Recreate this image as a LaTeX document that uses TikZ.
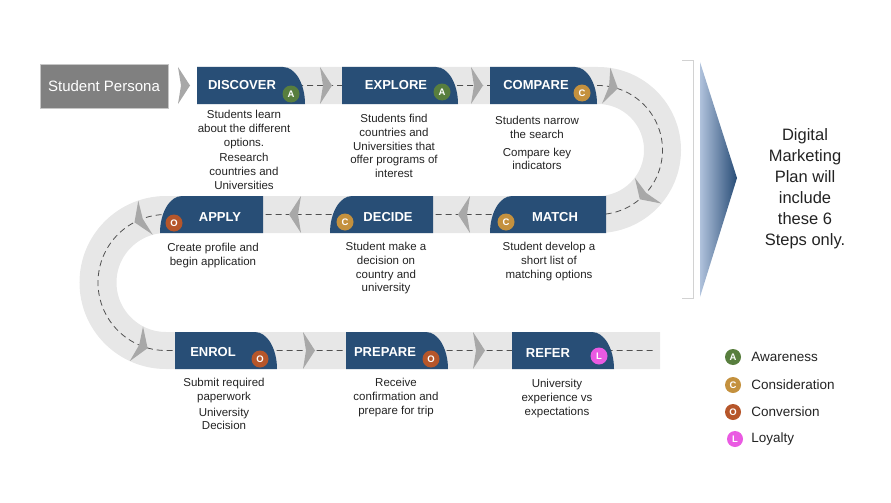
\documentclass[tikz,border=0pt]{standalone}
\usepackage{fontspec}
\setmainfont{Liberation Sans}
\usetikzlibrary{positioning}
\definecolor{stepblue}{RGB}{40,78,118}
\definecolor{trackgray}{RGB}{231,231,231}
\definecolor{chevgray}{RGB}{168,168,168}
\definecolor{dashgray}{RGB}{80,80,80}
\definecolor{personagray}{RGB}{128,128,128}
\definecolor{txtgray}{RGB}{35,35,35}
\definecolor{awgreen}{RGB}{88,126,62}
\definecolor{congold}{RGB}{196,145,62}
\definecolor{convrust}{RGB}{182,86,42}
\definecolor{loypink}{RGB}{234,90,226}
\definecolor{planlight}{RGB}{176,194,220}
\definecolor{plandark}{RGB}{40,76,118}
\tikzset{
  track/.style={line width=37pt,trackgray},
  route/.style={line width=0.8pt,dashgray,dash pattern=on 6pt off 4pt},
  stepfill/.style={fill=stepblue},
  steptitle/.style={font=\fontsize{13}{13}\selectfont\bfseries,text=white,inner sep=0pt},
  stepdesc/.style={align=center,inner sep=0pt,anchor=north,text=txtgray,
    font=\fontsize{11.5}{13.8}\selectfont},
  badge/.style={circle,inner sep=0pt,minimum size=17pt,text=white,
    font=\fontsize{9.5}{9.5}\selectfont\bfseries},
  aw/.style={badge,fill=awgreen},
  cs/.style={badge,fill=congold},
  cv/.style={badge,fill=convrust},
  ly/.style={badge,fill=loypink},
  persona/.style={fill=personagray,draw=gray!45,minimum width=128pt,minimum height=44pt,
    text=white,font=\fontsize{15}{15}\selectfont},
  plan/.style={align=center,text=txtgray,font=\fontsize{16.5}{21}\selectfont},
  planbracket/.style={gray!35,line width=0.8pt},
  leg/.style={text=txtgray,inner sep=0pt,font=\fontsize{13.5}{13.5}\selectfont},
  chev/.pic={\fill[chevgray] (-6,18.5) -- (6,0) -- (-6,-18.5) -- (-3,0) -- cycle;},
}
\begin{document}
\begin{tikzpicture}[x=1pt,y=1pt]
  \useasboundingbox (0,0) rectangle (891,-503);
  % the road
  \draw[track] (197,-85.5) -- (598,-85.5) arc[start angle=90,end angle=-90,radius=64.5]
    -- (166,-214.5) arc[start angle=90,end angle=270,radius=68] -- (660,-350.5);
  \draw[route] (197,-85.5) -- (598,-85.5) arc[start angle=90,end angle=-90,radius=64.5]
    -- (166,-214.5) arc[start angle=90,end angle=270,radius=68] -- (653,-350.5);
  % chevrons along the road
  \pic at (184,-85.5) {chev};
  \pic at (326,-85.5) {chev};
  \pic at (477,-85.5) {chev};
  \pic[rotate=-13] at (612,-87) {chev};
  \pic[rotate=-134] at (644,-195) {chev};
  \pic[rotate=180] at (295,-214.5) {chev};
  \pic[rotate=180] at (464,-214.5) {chev};
  \pic[rotate=203] at (140,-220) {chev};
  \pic[rotate=-21] at (142,-346) {chev};
  \pic at (309,-350.5) {chev};
  \pic at (479,-350.5) {chev};

  \node[persona] (persona) at (104,-86) {Student Persona};

  % row 1
  \fill[stepfill] (197,-104) |- (283,-67) arc[start angle=90,end angle=0,x radius=22,y radius=37] -- cycle;
  \fill[stepfill] (342,-104) |- (436,-67) arc[start angle=90,end angle=0,x radius=22,y radius=37] -- cycle;
  \fill[stepfill] (490,-104) |- (575,-67) arc[start angle=90,end angle=0,x radius=22,y radius=37] -- cycle;
  \node[steptitle] (discover) at (242,-85) {DISCOVER};
  \node[steptitle] (explore) at (396,-85) {EXPLORE};
  \node[steptitle] (compare) at (536,-85) {COMPARE};
  \node[aw] (bdiscover) at (291,-94) {A};
  \node[aw] (bexplore) at (442,-92) {A};
  \node[cs] (bcompare) at (582,-93) {C};
  \node[stepdesc] (ddiscover) at (244,-110) {Students learn\\about the different\\options.\\[2pt]Research\\countries and\\Universities};
  \node[stepdesc] (dexplore) at (394,-114) {Students find\\countries and\\Universities that\\offer programs of\\interest};
  \node[stepdesc] (dcompare) at (537,-116) {Students narrow\\the search\\[4pt]Compare key\\indicators};

  % row 2
  \fill[stepfill] (263,-233) |- (182,-196) arc[start angle=90,end angle=180,x radius=22,y radius=37] -- cycle;
  \fill[stepfill] (433,-233) |- (352,-196) arc[start angle=90,end angle=180,x radius=22,y radius=37] -- cycle;
  \fill[stepfill] (606,-233) |- (512,-196) arc[start angle=90,end angle=180,x radius=22,y radius=37] -- cycle;
  \node[steptitle] (apply) at (220,-217) {APPLY};
  \node[steptitle] (decide) at (388,-217) {DECIDE};
  \node[steptitle] (match) at (555,-217) {MATCH};
  \node[cv] (bapply) at (174,-223) {O};
  \node[cs] (bdecide) at (345,-222) {C};
  \node[cs] (bmatch) at (506,-222) {C};
  \node[stepdesc] (dapply) at (213,-243) {Create profile and\\begin application};
  \node[stepdesc] (ddecide) at (386,-242) {Student make a\\decision on\\country and\\university};
  \node[stepdesc] (dmatch) at (549,-242) {Student develop a\\short list of\\matching options};

  % row 3
  \fill[stepfill] (175,-369) |- (255,-332) arc[start angle=90,end angle=0,x radius=22,y radius=37] -- cycle;
  \fill[stepfill] (346,-369) |- (426,-332) arc[start angle=90,end angle=0,x radius=22,y radius=37] -- cycle;
  \fill[stepfill] (512,-369) |- (592,-332) arc[start angle=90,end angle=0,x radius=22,y radius=37] -- cycle;
  \node[steptitle] (enrol) at (213,-352) {ENROL};
  \node[steptitle] (prepare) at (385,-352) {PREPARE};
  \node[steptitle] (refer) at (548,-353) {REFER};
  \node[cv] (benrol) at (260,-359) {O};
  \node[cv] (bprepare) at (431,-359) {O};
  \node[ly] (brefer) at (599,-356) {L};
  \node[stepdesc] (denrol) at (224,-378) {Submit required\\paperwork\\[2pt]University\\Decision};
  \node[stepdesc] (dprepare) at (396,-378) {Receive\\confirmation and\\prepare for trip};
  \node[stepdesc] (drefer) at (557,-379) {University\\experience vs\\expectations};

  % the plan
  \draw[planbracket] (682,-60) -- (693,-60) -- (693,-298) -- (682,-298);
  \shade[left color=planlight,right color=plandark] (700,-62) -- (737,-178) -- (700,-297) -- cycle;
  \node[plan] (plan) at (805,-189) {Digital\\Marketing\\Plan will\\include\\these 6\\Steps only.};

  % legend
  \node[aw,minimum size=16pt] (la) at (733,-357) {A};
  \node[cs,minimum size=16pt] (lc) at (733,-385) {C};
  \node[cv,minimum size=16pt] (lo) at (733,-412) {O};
  \node[ly,minimum size=16pt] (ll) at (735,-439) {L};
  \node[leg,right=10pt of la] {Awareness};
  \node[leg,right=10pt of lc] {Consideration};
  \node[leg,right=10pt of lo] {Conversion};
  \node[leg,right=8pt of ll] {Loyalty};
\end{tikzpicture}
\end{document}
